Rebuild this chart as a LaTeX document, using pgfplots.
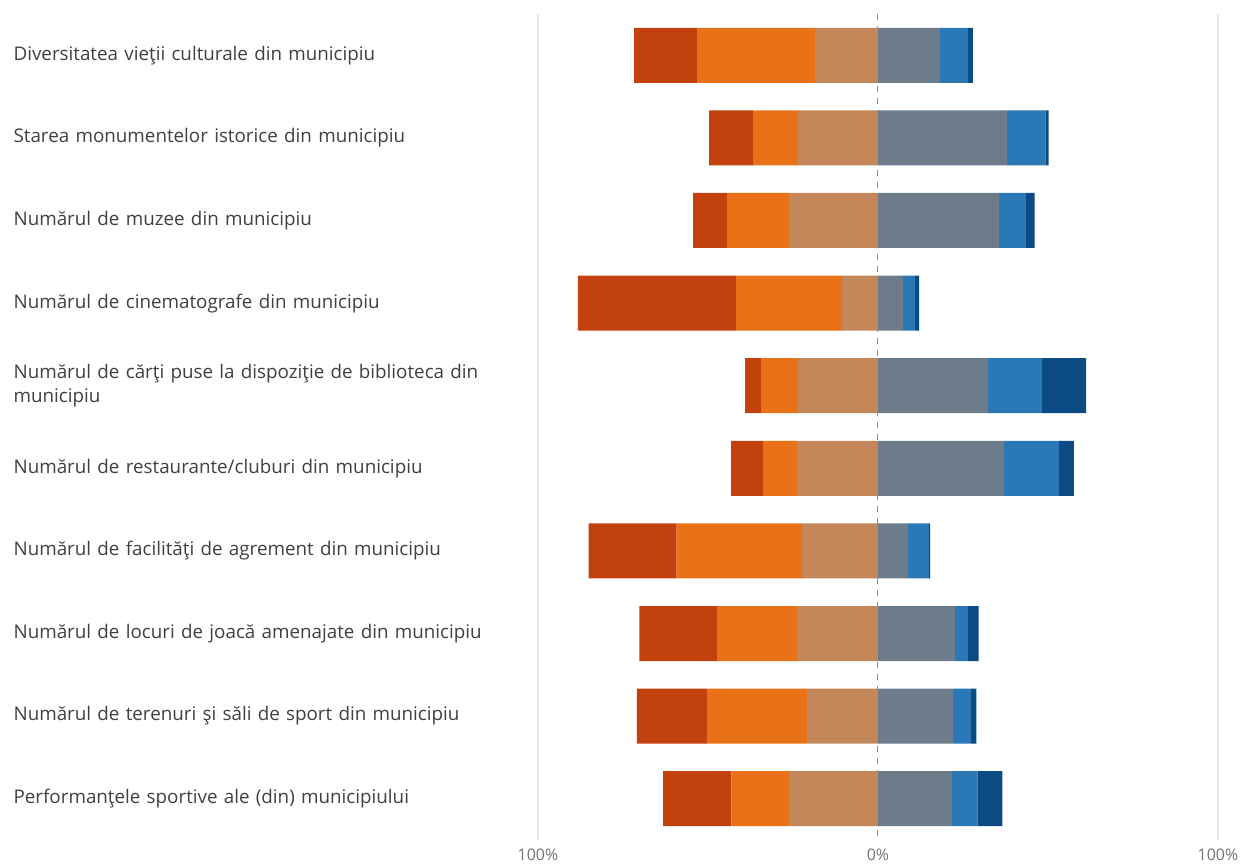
\documentclass[border=0pt]{standalone}
\usepackage{fontspec}
\setmainfont{Open Sans}
\usepackage{pgfplots}
\usepackage{pgfplotstable}
\pgfplotsset{compat=1.18}
\definecolor{cdr}{RGB}{194,65,12}
\definecolor{cor}{RGB}{233,113,24}
\definecolor{ctan}{RGB}{196,135,90}
\definecolor{cgray}{RGB}{109,124,139}
\definecolor{cblue}{RGB}{42,121,182}
\definecolor{cdb}{RGB}{11,74,130}
\definecolor{ctxt}{RGB}{64,64,64}
\definecolor{cgrid}{RGB}{232,232,232}
\pgfplotstableread{
y  dr    or    tan   gray  blue  db
1  18.5  34.7  18.5  18.2  8.2   1.5
2  13.0  13.2  23.5  38.0  11.2  1.0
3  10.0  18.2  26.2  35.6  7.9   2.6
4  46.5  31.2  10.6  7.4   3.5   1.2
5  4.7   10.9  23.5  32.4  15.9  12.9
6  9.4   10.0  23.8  37.0  16.2  4.4
7  25.9  36.8  22.4  8.8   6.2   0.3
8  22.9  23.5  23.8  22.6  3.8   3.2
9  20.6  29.4  20.9  22.1  5.3   1.5
10 20.1  16.9  26.2  21.8  7.4   7.4
}\datatable
\begin{document}
\begin{tikzpicture}
\path[use as bounding box] (-269pt,-12.5pt) rectangle (357pt,420pt);
\begin{axis}[
  at={(0,0)}, anchor=south west,
  scale only axis, width=340pt, height=413pt,
  xbar stacked, stack negative=separate, bar width=27.5pt,
  xmin=-100, xmax=100,
  ymin=0.5, ymax=10.5, y dir=reverse,
  axis line style={draw=none},
  major tick length=0pt,
  xtick={-100,100}, xticklabels={100\%,100\%},
  extra x ticks={0}, extra x tick labels={0\%},
  extra x tick style={grid style={dashed, draw=black!45, line width=0.5pt}},
  xmajorgrids, grid style={cgrid, line width=0.6pt},
  xticklabel style={font=\fontsize{8}{9}\selectfont, text=black!55, yshift=-1pt},
  ytick={1,...,10},
  yticklabels={
    {Diversitatea vieţii culturale din municipiu},
    {Starea monumentelor istorice din municipiu},
    {Numărul de muzee din municipiu},
    {Numărul de cinematografe din municipiu},
    {Numărul de cărţi puse la dispoziţie de biblioteca din\\municipiu},
    {Numărul de restaurante/cluburi din municipiu},
    {Numărul de facilităţi de agrement din municipiu},
    {Numărul de locuri de joacă amenajate din municipiu},
    {Numărul de terenuri şi săli de sport din municipiu},
    {Performanţele sportive ale (din) municipiului}},
  yticklabel style={font=\fontsize{9.4}{12}\selectfont, text=ctxt, text width=262pt, align=left, anchor=east, inner sep=0pt},
]
\addplot[fill=ctan, draw=none] table[x expr=-\thisrow{tan}, y=y] {\datatable};
\addplot[fill=cor, draw=none] table[x expr=-\thisrow{or}, y=y] {\datatable};
\addplot[fill=cdr, draw=none] table[x expr=-\thisrow{dr}, y=y] {\datatable};
\addplot[fill=cgray, draw=none] table[x=gray, y=y] {\datatable};
\addplot[fill=cblue, draw=none] table[x=blue, y=y] {\datatable};
\addplot[fill=cdb, draw=none] table[x=db, y=y] {\datatable};
\end{axis}
\end{tikzpicture}
\end{document}
